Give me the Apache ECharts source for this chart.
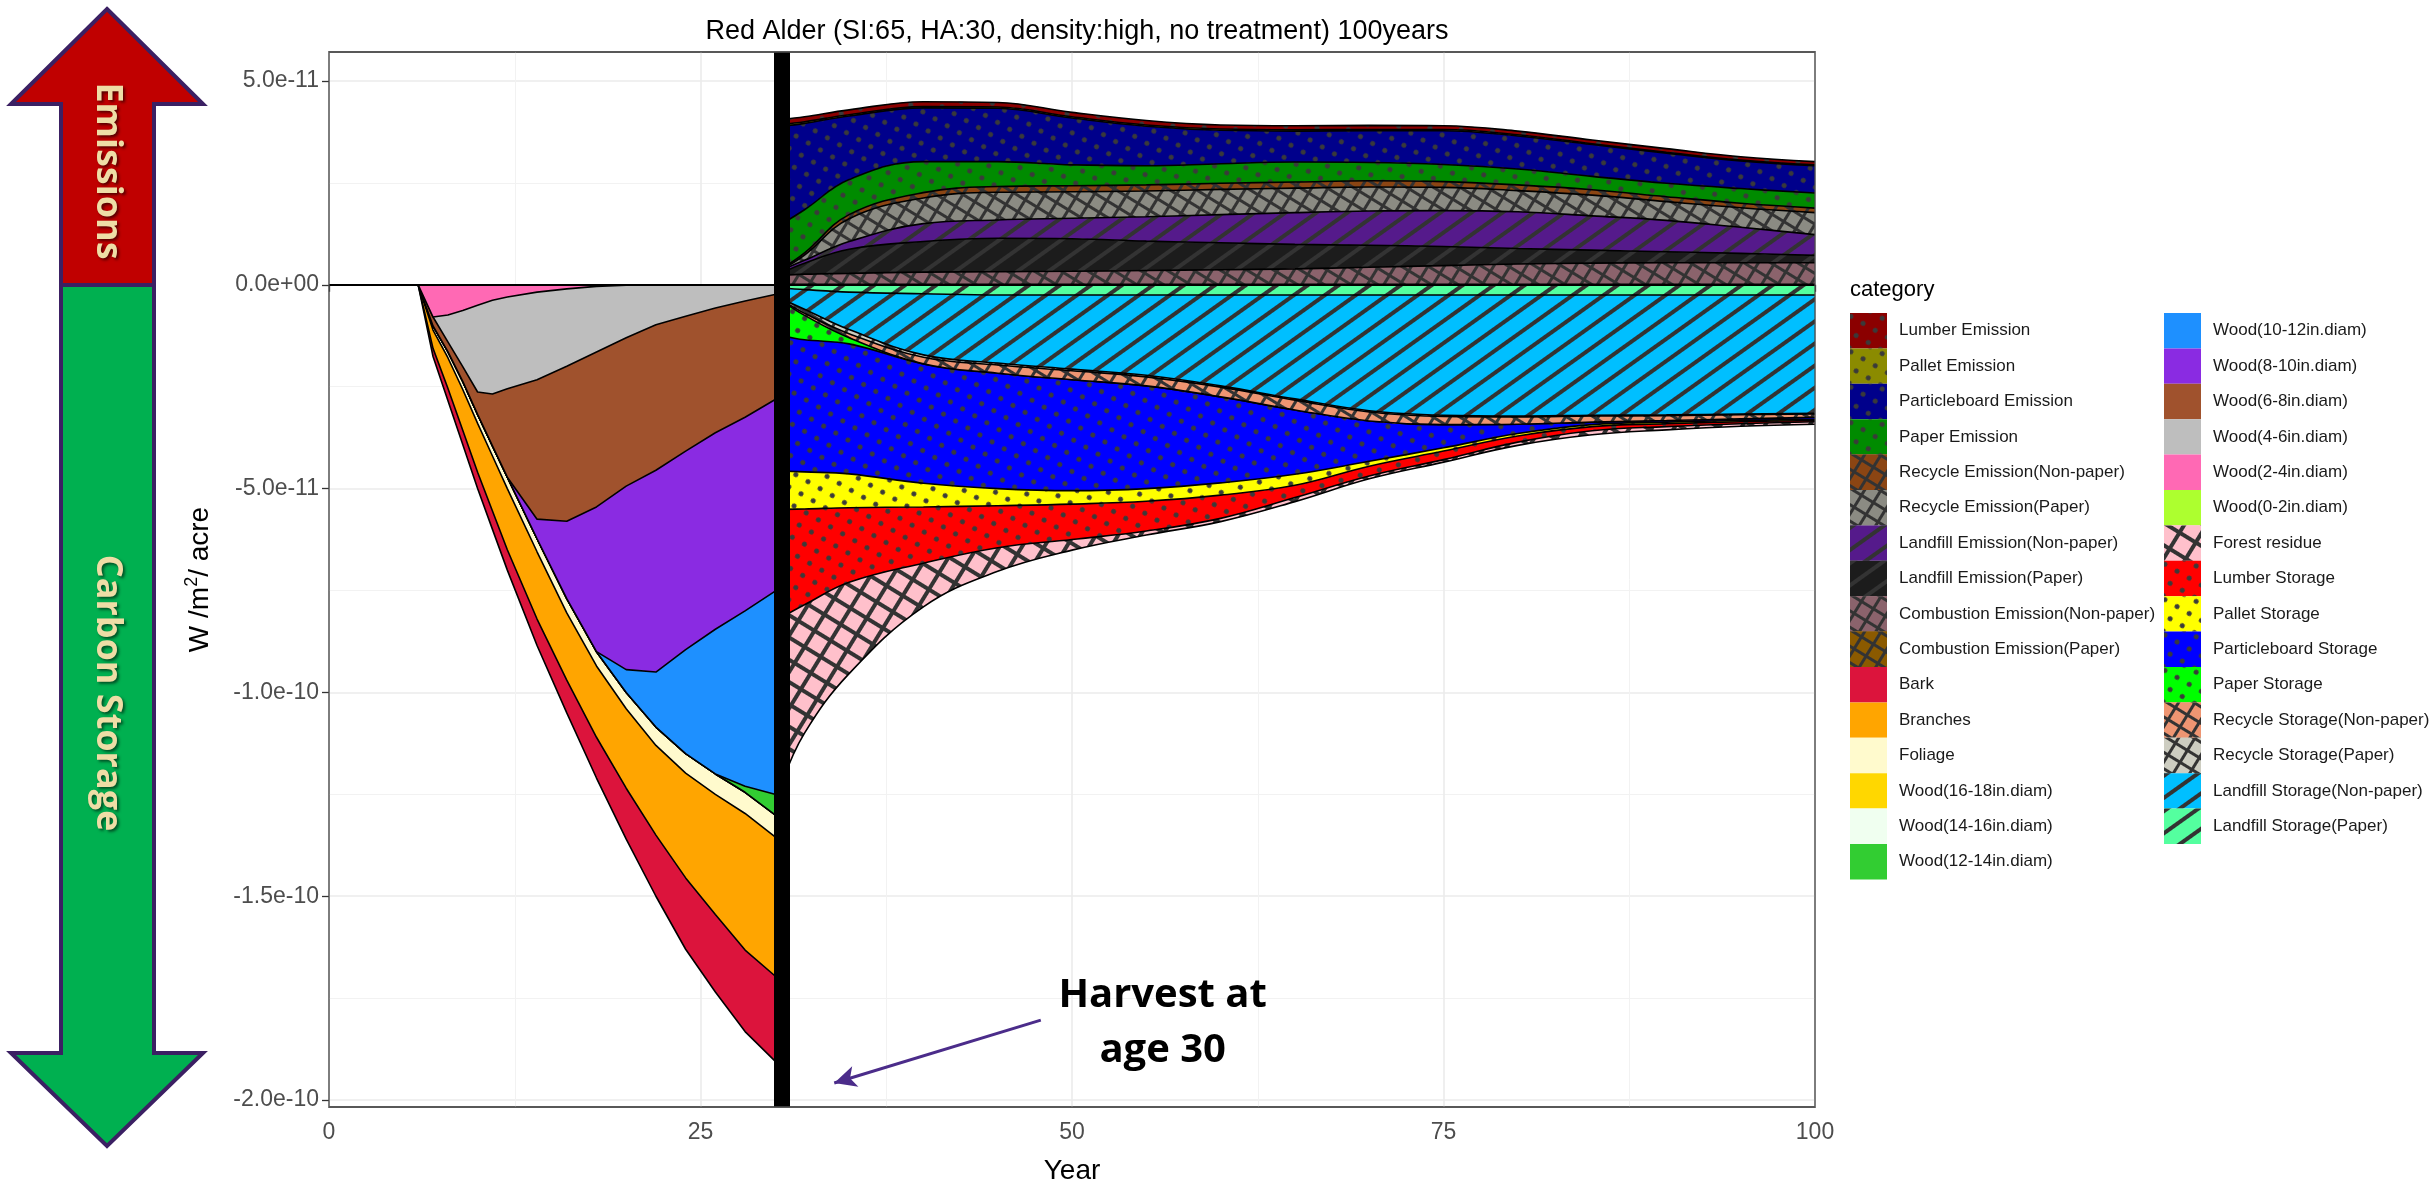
<!DOCTYPE html>
<html>
<head>
<meta charset="UTF-8">
<title>Red Alder</title>
<script src="https://cdn.jsdelivr.net/npm/echarts@6.0.0/dist/echarts.min.js"></script>
<style>
  html, body { margin: 0; padding: 0; background: #fff; }
  #main { width: 2432px; height: 1190px; }
</style>
</head>
<body>
<div id="main"></div>
<script type="text/javascript">
// all values in units of 1e-11 W/m2/acre
var UNIT = 1e-11;

var preYears = [6, 7, 8, 9, 10, 11, 12, 14, 16, 18, 20, 22, 24, 26, 28, 30];
var postYears = [30.5, 32, 35, 40, 45, 50, 55, 60, 65, 70, 75, 80, 85, 90, 95, 100];

// standing stand before harvest (storage, negative)
var wood0to2 = [0, 0, 0, 0, 0, 0, 0, 0, 0, 0, 0, 0, 0, 0, 0, 0];
var wood2to4 = [0, -0.79, -0.74, -0.63, -0.5, -0.38, -0.3, -0.18, -0.1, -0.04, -0.01, 0, 0, 0, 0, 0];
var wood4to6 = [0, 0, -0.66, -1.38, -2.13, -2.3, -2.25, -2.15, -1.9, -1.61, -1.29, -0.98, -0.77, -0.57, -0.4, -0.24];
var wood6to8 = [0, -0.22, -0.24, -0.36, -0.55, -1.27, -2.17, -3.42, -3.8, -3.8, -3.64, -3.57, -3.31, -3.06, -2.85, -2.58];
var wood8to10 = [0, 0, 0, 0, 0, 0, 0, -0.48, -1.9, -3.55, -4.5, -4.95, -4.87, -4.82, -4.75, -4.7];
var wood10to12 = [0, 0, 0, 0, 0, 0, 0, 0, 0, 0, -0.56, -1.35, -2.55, -3.55, -4.3, -4.98];
var wood12to14 = [0, 0, 0, 0, 0, 0, 0, 0, 0, 0, 0, 0, 0, 0, -0.15, -0.5];
var wood14to16 = [0, 0, 0, 0, 0, 0, 0, 0, 0, 0, 0, 0, 0, 0, 0, 0];
var wood16to18 = [0, 0, 0, 0, 0, 0, 0, 0, 0, 0, 0, 0, 0, 0, 0, 0];
var foliage = [0, -0.1, -0.15, -0.2, -0.22, -0.25, -0.28, -0.32, -0.35, -0.35, -0.4, -0.45, -0.48, -0.5, -0.52, -0.54];
var branches = [0, -0.45, -0.75, -1.0, -1.2, -1.35, -1.5, -1.65, -1.65, -1.75, -1.95, -2.2, -2.57, -2.95, -3.35, -3.41];
var bark = [0, -0.2, -0.3, -0.35, -0.4, -0.45, -0.5, -0.65, -0.8, -1.0, -1.25, -1.5, -1.75, -1.9, -2.0, -2.09];

// after harvest: emissions (positive)
var combustionPaperEm = [0.01, 0.01, 0.01, 0.01, 0.01, 0.01, 0.01, 0.01, 0.01, 0.01, 0.01, 0.01, 0.01, 0.01, 0.01, 0.01];
var combustionNonPaperEm = [0.22, 0.25, 0.27, 0.3, 0.31, 0.32, 0.34, 0.36, 0.38, 0.42, 0.46, 0.5, 0.52, 0.53, 0.53, 0.53];
var landfillPaperEm = [0.07, 0.27, 0.59, 0.75, 0.82, 0.8, 0.72, 0.66, 0.6, 0.54, 0.47, 0.38, 0.32, 0.27, 0.23, 0.18];
var landfillNonPaperEm = [0.07, 0.07, 0.19, 0.44, 0.45, 0.5, 0.6, 0.69, 0.78, 0.84, 0.88, 0.9, 0.84, 0.77, 0.64, 0.51];
var recyclePaperEm = [0.01, 0.13, 0.56, 0.63, 0.68, 0.65, 0.63, 0.62, 0.6, 0.59, 0.57, 0.52, 0.51, 0.46, 0.48, 0.54];
var recycleNonPaperEm = [0.02, 0.05, 0.1, 0.13, 0.14, 0.15, 0.15, 0.15, 0.15, 0.15, 0.14, 0.14, 0.13, 0.12, 0.11, 0.11];
var paperEm = [1.1, 1.06, 0.86, 0.76, 0.61, 0.51, 0.47, 0.48, 0.49, 0.45, 0.42, 0.39, 0.33, 0.33, 0.36, 0.37];
var particleboardEm = [2.39, 2.12, 1.56, 1.32, 1.31, 1.15, 0.97, 0.82, 0.76, 0.78, 0.83, 0.81, 0.78, 0.74, 0.68, 0.67];
var palletEm = [0.04, 0.04, 0.03, 0.03, 0.03, 0.03, 0.03, 0.03, 0.03, 0.03, 0.03, 0.03, 0.02, 0.02, 0.02, 0.02];
var lumberEm = [0.12, 0.12, 0.12, 0.12, 0.11, 0.11, 0.11, 0.1, 0.1, 0.1, 0.09, 0.09, 0.09, 0.09, 0.08, 0.08];

// after harvest: storage (negative)
var landfillPaperSt = [-0.08, -0.12, -0.18, -0.22, -0.25, -0.25, -0.25, -0.25, -0.25, -0.25, -0.25, -0.25, -0.25, -0.25, -0.25, -0.25];
var landfillNonPaperSt = [-0.27, -0.48, -0.92, -1.5, -1.67, -1.82, -1.97, -2.23, -2.55, -2.84, -2.95, -2.97, -2.95, -2.94, -2.92, -2.9];
var recyclePaperSt = [-0.03, -0.1, -0.1, -0.06, -0.05, -0.04, -0.04, -0.03, -0.03, -0.03, -0.03, -0.02, -0.02, -0.02, -0.02, -0.02];
var recycleNonPaperSt = [-0.02, -0.05, -0.1, -0.16, -0.2, -0.22, -0.22, -0.24, -0.24, -0.22, -0.2, -0.18, -0.15, -0.12, -0.1, -0.08];
var paperSt = [-0.85, -0.6, -0.15, 0, 0, 0, 0, 0, 0, 0, 0, 0, 0, 0, 0, 0];
var particleboardSt = [-3.32, -3.24, -3.19, -2.93, -2.83, -2.72, -2.52, -2.11, -1.58, -0.99, -0.57, -0.23, -0.06, -0.04, -0.04, -0.05];
var palletSt = [-0.94, -0.91, -0.83, -0.58, -0.42, -0.33, -0.31, -0.3, -0.27, -0.12, -0.08, -0.06, -0.05, -0.04, -0.03, -0.03];
var lumberSt = [-2.64, -2.35, -1.83, -1.38, -1.03, -0.87, -0.73, -0.57, -0.3, -0.24, -0.21, -0.15, -0.1, -0.07, -0.05, -0.03];
var forestResidue = [-4.05, -3.15, -2.24, -1.07, -0.58, -0.26, -0.1, -0.08, -0.1, -0.07, -0.06, -0.08, -0.1, -0.08, -0.06, -0.06];

var yTickValues = [-2e-10, -1.5e-10, -1e-10, -5e-11, 0, 5e-11];
var yTickLabels = ['-2.0e-10', '-1.5e-10', '-1.0e-10', '-5.0e-11', '0.0e+00', '5.0e-11'];
var yMinorValues = [-1.75e-10, -1.25e-10, -7.5e-11, -2.5e-11, 2.5e-11];

var legendLeft = ['Lumber Emission', 'Pallet Emission', 'Particleboard Emission', 'Paper Emission',
  'Recycle Emission(Non-paper)', 'Recycle Emission(Paper)', 'Landfill Emission(Non-paper)', 'Landfill Emission(Paper)',
  'Combustion Emission(Non-paper)', 'Combustion Emission(Paper)', 'Bark', 'Branches', 'Foliage',
  'Wood(16-18in.diam)', 'Wood(14-16in.diam)', 'Wood(12-14in.diam)'];
var legendRight = ['Wood(10-12in.diam)', 'Wood(8-10in.diam)', 'Wood(6-8in.diam)', 'Wood(4-6in.diam)',
  'Wood(2-4in.diam)', 'Wood(0-2in.diam)', 'Forest residue', 'Lumber Storage', 'Pallet Storage',
  'Particleboard Storage', 'Paper Storage', 'Recycle Storage(Non-paper)', 'Recycle Storage(Paper)',
  'Landfill Storage(Non-paper)', 'Landfill Storage(Paper)'];

// fill patterns
function dots() {
  return { symbol: 'circle', symbolSize: 1, symbolKeepAspect: false, color: '#3a3a3a',
    dashArrayX: [5, 9], dashArrayY: [5, 9], rotation: 0.52 };
}
function hatch(fill, cell, line) {
  return { symbol: 'rect', symbolSize: 1, symbolKeepAspect: false, color: fill, backgroundColor: '#333333',
    dashArrayX: [cell, line], dashArrayY: [cell, line], rotation: 0.55 };
}
function stripes() {
  return { symbol: 'rect', symbolSize: 1, symbolKeepAspect: false, color: '#333333',
    dashArrayX: [1, 0], dashArrayY: [4, 14], rotation: -0.62 };
}

// stacks, nearest zero first
var preStack = [
  ['Wood(0-2in.diam)', wood0to2, '#ADFF2F'],
  ['Wood(2-4in.diam)', wood2to4, '#FF69B4'],
  ['Wood(4-6in.diam)', wood4to6, '#BEBEBE'],
  ['Wood(6-8in.diam)', wood6to8, '#A0522D'],
  ['Wood(8-10in.diam)', wood8to10, '#8A2BE2'],
  ['Wood(10-12in.diam)', wood10to12, '#1E90FF'],
  ['Wood(12-14in.diam)', wood12to14, '#32CD32'],
  ['Wood(14-16in.diam)', wood14to16, '#F0FFF0'],
  ['Wood(16-18in.diam)', wood16to18, '#FFD700'],
  ['Foliage', foliage, '#FFFACD'],
  ['Branches', branches, '#FFA500'],
  ['Bark', bark, '#DC143C']
];
var postNegStack = [
  ['Landfill Storage(Paper)', landfillPaperSt, '#54FF9F', stripes()],
  ['Landfill Storage(Non-paper)', landfillNonPaperSt, '#00BFFF', stripes()],
  ['Recycle Storage(Paper)', recyclePaperSt, '#CDCDC1', hatch('#CDCDC1', 11, 3)],
  ['Recycle Storage(Non-paper)', recycleNonPaperSt, '#EE9572', hatch('#EE9572', 11, 3)],
  ['Paper Storage', paperSt, '#00FF00', dots()],
  ['Particleboard Storage', particleboardSt, '#0000FF', dots()],
  ['Pallet Storage', palletSt, '#FFFF00', dots()],
  ['Lumber Storage', lumberSt, '#FF0000', dots()],
  ['Forest residue', forestResidue, '#FFC0CB', hatch('#FFC0CB', 15, 4)]
];
var postPosStack = [
  ['Combustion Emission(Paper)', combustionPaperEm, '#8B5A00', hatch('#8B5A00', 11, 3)],
  ['Combustion Emission(Non-paper)', combustionNonPaperEm, '#8B636C', hatch('#8B636C', 11, 3)],
  ['Landfill Emission(Paper)', landfillPaperEm, '#1C1C1C', stripes()],
  ['Landfill Emission(Non-paper)', landfillNonPaperEm, '#551A8B', stripes()],
  ['Recycle Emission(Paper)', recyclePaperEm, '#8B8B83', hatch('#8B8B83', 11, 3)],
  ['Recycle Emission(Non-paper)', recycleNonPaperEm, '#8B4513', hatch('#8B4513', 11, 3)],
  ['Paper Emission', paperEm, '#008B00', dots()],
  ['Particleboard Emission', particleboardEm, '#00008B', dots()],
  ['Pallet Emission', palletEm, '#8B8B00', dots()],
  ['Lumber Emission', lumberEm, '#8B0000', dots()]
];

var seriesList = [];
function addStack(stackName, years, layers, smooth) {
  layers.forEach(function (l, i) {
    var itemStyle = { color: l[2] };
    if (l[3]) itemStyle.decal = l[3];
    seriesList.push({
      name: l[0],
      type: 'line',
      stack: stackName,
      stackStrategy: 'all',
      // value first so the stack runs on the value, year second
      data: years.map(function (x, k) { return [l[1][k] * UNIT, x]; }),
      encode: { x: 1, y: 0 },
      smooth: smooth,
      symbol: 'none',
      showSymbol: false,
      z: 20 - i,
      lineStyle: { color: '#000', width: 1.6 },
      itemStyle: itemStyle,
      areaStyle: { color: l[2], opacity: 1 },
      emphasis: { disabled: true },
      silent: true
    });
  });
}
addStack('pre', preYears, preStack, false);
addStack('postNeg', postYears, postNegStack, 0.4);
addStack('postPos', postYears, postPosStack, 0.4);

var yMin = -2.017e-10, yMax = 5.71e-11;

// harvest line, zero line, annotation, panel border
seriesList.push({
  name: 'annotations',
  type: 'line',
  data: [],
  z: 30,
  silent: true,
  markLine: {
    z: 40,
    silent: true,
    animation: false,
    symbol: ['none', 'none'],
    label: { show: false },
    data: [
      { yAxis: 0, lineStyle: { color: '#000', width: 1.8, type: 'solid' } },
      { xAxis: 30.5, lineStyle: { color: '#000', width: 16, type: 'solid' } },
      [
        { coord: [47.9, -18.04 * UNIT], symbol: 'none' },
        { coord: [34.0, -19.58 * UNIT], symbol: 'arrow', symbolSize: [16, 22],
          lineStyle: { color: '#4B2C8A', width: 3, type: 'solid' } }
      ]
    ]
  },
  markPoint: {
    z: 40,
    silent: true,
    animation: false,
    symbol: 'circle',
    symbolSize: 0,
    data: [{
      coord: [56.1, -18.1 * UNIT],
      label: {
        show: true, position: 'inside', formatter: 'Harvest at\nage 30',
        fontFamily: 'Open Sans', fontWeight: 700, fontSize: 40, lineHeight: 55,
        color: '#000', align: 'center'
      }
    }]
  },
  markArea: {
    z: 41,
    silent: true,
    itemStyle: { color: 'rgba(0,0,0,0)', borderColor: '#4d4d4d', borderWidth: 1.3 },
    data: [[{ coord: [0, yMin] }, { coord: [100, yMax] }]]
  }
});

var myChart = echarts.init(document.getElementById('main'));

var option = {
  animation: false,
  backgroundColor: '#fff',
  title: {
    text: 'Red Alder (SI:65, HA:30, density:high, no treatment) 100years',
    left: 1072,
    top: 13,
    textAlign: 'center',
    textStyle: { fontFamily: 'Liberation Sans', fontSize: 27, fontWeight: 'normal', color: '#000' }
  },
  grid: { left: 329, right: 617, top: 52, bottom: 82, show: true, borderColor: '#4d4d4d', borderWidth: 1.3, backgroundColor: '#fff' },
  legend: [
    {
      data: legendLeft.map(function (n) { return { name: n }; }),
      orient: 'vertical', left: 1850, top: 313, padding: 0,
      itemWidth: 37, itemHeight: 35.4, itemGap: 0, icon: 'rect', selectedMode: false,
      itemStyle: { borderWidth: 0 },
      textStyle: { fontFamily: 'Liberation Sans', fontSize: 17, color: '#1a1a1a', padding: [0, 0, 0, 7] }
    },
    {
      data: legendRight.map(function (n) { return { name: n }; }),
      orient: 'vertical', left: 2164, top: 313, padding: 0,
      itemWidth: 37, itemHeight: 35.4, itemGap: 0, icon: 'rect', selectedMode: false,
      itemStyle: { borderWidth: 0 },
      textStyle: { fontFamily: 'Liberation Sans', fontSize: 17, color: '#1a1a1a', padding: [0, 0, 0, 7] }
    }
  ],
  xAxis: [{
    type: 'value', min: 0, max: 100, interval: 25,
    name: 'Year', nameLocation: 'middle', nameGap: 50,
    nameTextStyle: { fontFamily: 'Liberation Sans', fontSize: 28, color: '#000' },
    axisLine: { show: false },
    axisTick: { show: true, length: 7, lineStyle: { color: '#333', width: 1.3 } },
    axisLabel: { fontFamily: 'Liberation Sans', fontSize: 23, color: '#4D4D4D', margin: 14 },
    splitLine: { show: true, lineStyle: { color: '#EBEBEB', width: 1.6 } },
    minorTick: { show: false, splitNumber: 2 },
    minorSplitLine: { show: true, lineStyle: { color: '#F2F2F2', width: 1 } }
  }],
  yAxis: [{
    type: 'value', min: yMin, max: yMax,
    name: 'W /m{sup|2}/ acre', nameLocation: 'middle', nameGap: 112,
    nameTextStyle: {
      fontFamily: 'Liberation Sans', fontSize: 28, color: '#000', lineHeight: 34,
      rich: { sup: { fontFamily: 'Liberation Sans', fontSize: 18, color: '#000', verticalAlign: 'top', lineHeight: 34 } }
    },
    axisLine: { show: false },
    axisTick: { show: true, length: 7, customValues: yTickValues, lineStyle: { color: '#333', width: 1.3 } },
    axisLabel: {
      fontFamily: 'Liberation Sans', fontSize: 23, color: '#4D4D4D', margin: 10,
      customValues: yTickValues,
      formatter: function (v) {
        for (var i = 0; i < yTickValues.length; i++) {
          if (Math.abs(yTickValues[i] - v) < 1e-14) return yTickLabels[i];
        }
        return '';
      }
    },
    splitLine: { show: true, lineStyle: { color: '#EBEBEB', width: 1.6 } }
  }, {
    type: 'value', min: yMin, max: yMax, position: 'left',
    axisLine: { show: false },
    axisTick: { show: false, customValues: yMinorValues },
    axisLabel: { show: false, customValues: yMinorValues },
    splitLine: { show: true, lineStyle: { color: '#F2F2F2', width: 1 } }
  }],
  graphic: [
    {
      type: 'polygon', z: 100,
      shape: { points: [[107, 9], [203, 104], [154, 104], [154, 285], [61, 285], [61, 104], [11, 104]] },
      style: { fill: '#C00000', stroke: '#3B2063', lineWidth: 4, lineJoin: 'miter' }
    },
    {
      type: 'polygon', z: 100,
      shape: { points: [[61, 285], [154, 285], [154, 1053], [203, 1053], [107, 1146], [11, 1053], [61, 1053]] },
      style: { fill: '#00B050', stroke: '#3B2063', lineWidth: 4, lineJoin: 'miter' }
    },
    {
      type: 'text', z: 101, x: 107, y: 171, rotation: -Math.PI / 2,
      style: {
        text: 'Emissions', x: 0, y: 0, align: 'center', verticalAlign: 'middle',
        font: '700 36px "Open Sans"', fill: '#EEDDA6',
        textShadowColor: 'rgba(0,0,0,0.55)', textShadowBlur: 3, textShadowOffsetX: 2, textShadowOffsetY: 2
      }
    },
    {
      type: 'text', z: 101, x: 107, y: 693, rotation: -Math.PI / 2,
      style: {
        text: 'Carbon Storage', x: 0, y: 0, align: 'center', verticalAlign: 'middle',
        font: '700 36px "Open Sans"', fill: '#EEDDA6',
        textShadowColor: 'rgba(0,0,0,0.55)', textShadowBlur: 3, textShadowOffsetX: 2, textShadowOffsetY: 2
      }
    },
    {
      type: 'text', z: 101, left: 1850, top: 279,
      style: { text: 'category', font: '22px "Liberation Sans"', fill: '#000' }
    }
  ],
  series: seriesList
};

myChart.setOption(option, true);
</script>
</body>
</html>
